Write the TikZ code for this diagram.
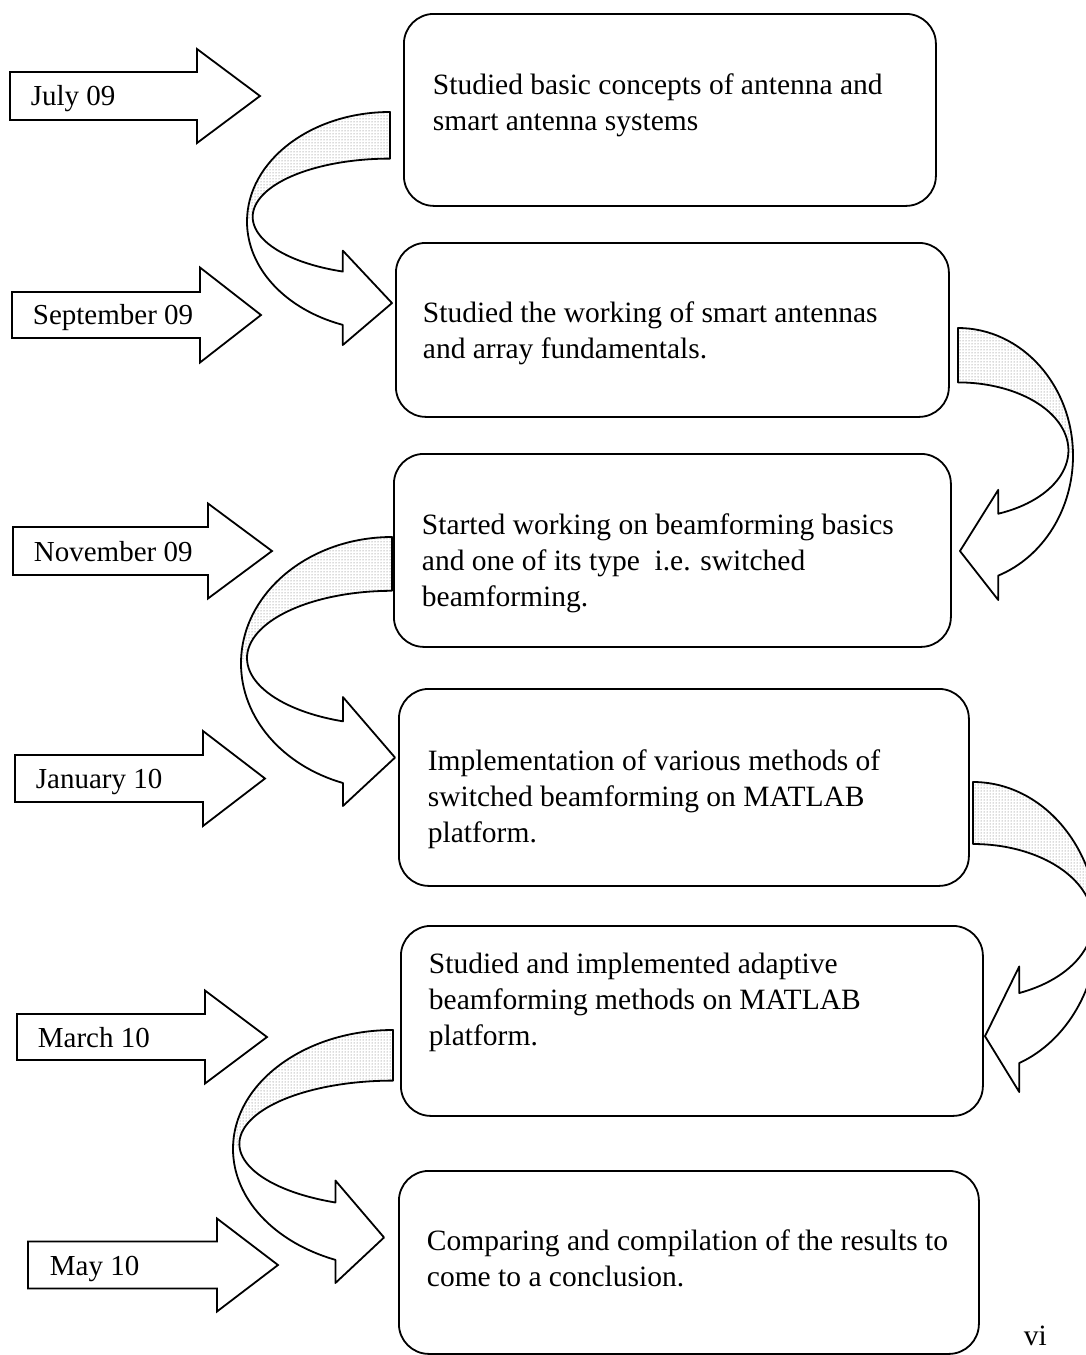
\documentclass[tikz,border=0pt]{standalone}
\usepackage{fontspec}
\setmainfont{Liberation Serif}
\usetikzlibrary{patterns}

% Ribbon-shaped curved arrow.
% #1,#2: top corner of the ribbon's start edge, #3: signed width (negative = curls to the right),
% #4: height, #5: head base offset (fraction of width), #6: tip offset (fraction of width)
\newcommand\curvedband[6]{%
  \begin{scope}[shift={(#1,#2)}, xscale=#3, yscale=-#4]
    % white body of the ribbon and head
    \path[fill=white] (0,0)
      arc[start angle=90, end angle={180+acos(#5)}, x radius=1, y radius=0.47]
      -- (-#5,-1) -- (#6,-0.82) -- (-#5,-0.595)
      -- ({-#5},{-0.45-0.25*sqrt(1-(#5/0.96)^2)})
      arc[start angle={180+acos(#5/0.96)}, end angle=90, x radius=0.96, y radius=0.25]
      -- cycle;
    % stippled back face of the ribbon
    \path[band] (0,0)
      arc[start angle=90, end angle=180, x radius=1, y radius=0.47]
      -- (-0.96,-0.45)
      arc[start angle=180, end angle=90, x radius=0.96, y radius=0.25]
      -- cycle;
    % outline
    \draw (0,0)
      arc[start angle=90, end angle={180+acos(#5)}, x radius=1, y radius=0.47]
      -- (-#5,-1) -- (#6,-0.82) -- (-#5,-0.595)
      -- ({-#5},{-0.45-0.25*sqrt(1-(#5/0.96)^2)})
      arc[start angle={180+acos(#5/0.96)}, end angle=90, x radius=0.96, y radius=0.25]
      -- cycle;
  \end{scope}}

% Block arrow for a date: #1 left x, #2 middle y, #3 shaft half height,
% #4 head base x, #5 head half height, #6 tip x
\newcommand\datearrow[6]{%
  \draw[datearrowshape] (#1,#2-#3) -- (#4,#2-#3) -- (#4,#2-#5) -- (#6,#2)
    -- (#4,#2+#5) -- (#4,#2+#3) -- (#1,#2+#3) -- cycle;}

\begin{document}
\begin{tikzpicture}[x=1pt, y=-1pt, line width=1.8pt, line join=round,
  stage/.style={draw, rounded corners=30pt, anchor=north west, inner sep=0pt},
  stagetext/.style={anchor=base west, inner sep=0pt, font=\fontsize{29.5}{36}\selectfont},
  datetext/.style={anchor=base west, inner sep=0pt, font=\fontsize{29}{35}\selectfont},
  datearrowshape/.style={draw, fill=white, line join=miter},
  band/.style={pattern=dots, pattern color=black!60}]

\useasboundingbox (0,0) rectangle (1086,1355);
\clip (0,0) rectangle (1086,1355);

% stage boxes
\node[stage, minimum width=532pt, minimum height=192pt] (b1) at (403,13) {};
\node[stage, minimum width=553pt, minimum height=174pt] (b2) at (395,242) {};
\node[stage, minimum width=557pt, minimum height=193pt] (b3) at (393,453) {};
\node[stage, minimum width=570pt, minimum height=197pt] (b4) at (398,688) {};
\node[stage, minimum width=582pt, minimum height=190pt] (b5) at (400,925) {};
\node[stage, minimum width=580pt, minimum height=183pt] (b6) at (398,1170) {};

% stage descriptions
\node[stagetext] (t1) at (432,94) {\begin{tabular}[t]{@{}l@{}}Studied basic concepts of antenna and\\smart antenna systems\end{tabular}};
\node[stagetext] (t2) at (422,322) {\begin{tabular}[t]{@{}l@{}}Studied the working of smart antennas\\and array fundamentals.\end{tabular}};
\node[stagetext] (t3) at (421,534) {\begin{tabular}[t]{@{}l@{}}Started working on beamforming basics\\and one of its type\ \ i.e. switched\\beamforming.\end{tabular}};
\node[stagetext] (t4) at (427,770) {\begin{tabular}[t]{@{}l@{}}Implementation of various methods of\\switched beamforming on MATLAB\\platform.\end{tabular}};
\node[stagetext] (t5) at (428,973) {\begin{tabular}[t]{@{}l@{}}Studied and implemented adaptive\\beamforming methods on MATLAB\\platform.\end{tabular}};
\node[stagetext] (t6) at (426,1250) {\begin{tabular}[t]{@{}l@{}}Comparing and compilation of the results to\\come to a conclusion.\end{tabular}};

% date arrows
\datearrow{10}{96}{24}{197}{47}{260}
\datearrow{12}{315}{23}{200}{47.5}{261}
\datearrow{13}{551}{24}{208}{47.5}{272}
\datearrow{15}{778.5}{23.5}{203}{47.5}{265}
\datearrow{17}{1037}{23}{205}{46.5}{267}
\datearrow{28}{1265}{23.5}{217}{46.5}{278}

\node[datetext] (d1) at (30,105) {July 09};
\node[datetext] (d2) at (32,324) {September 09};
\node[datetext] (d3) at (33,561) {November 09};
\node[datetext] (d4) at (35,788) {January 10};
\node[datetext] (d5) at (37,1047) {March 10};
\node[datetext] (d6) at (49,1275) {May 10};

% curved ribbons leading from one stage to the next
\curvedband{390}{112}{143}{233}{0.33}{0.014}
\curvedband{958}{328}{-115}{272}{0.35}{-0.017}
\curvedband{392}{537}{151}{269}{0.325}{0.02}
\curvedband{973}{782}{-125}{310}{0.37}{-0.096}
\curvedband{393}{1030}{160}{253}{0.36}{-0.056}

% page number
\node[stagetext] (pg) at (1023,1345) {vi};
\end{tikzpicture}
\end{document}
